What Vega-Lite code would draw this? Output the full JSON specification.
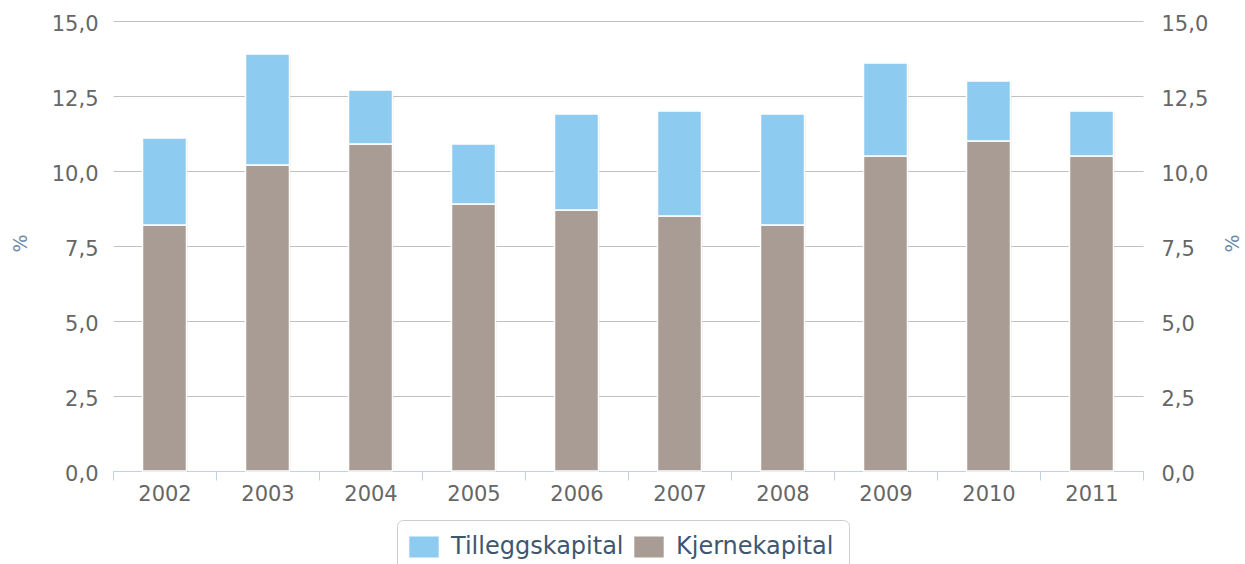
{
  "$schema": "https://vega.github.io/schema/vega-lite/v6.json",
  "width": 1030,
  "height": 450,
  "autosize": {"type": "none"},
  "padding": {"left": 113, "top": 21, "right": 102, "bottom": 93},
  "background": "white",
  "config": {
    "view": {"stroke": null},
    "font": "DejaVu Sans",
    "axis": {"labelFont": "DejaVu Sans", "titleFont": "DejaVu Sans"}
  },
  "data": {
    "values": [
      {"year": "2002", "series": "Kjernekapital", "value": 8.2},
      {"year": "2002", "series": "Tilleggskapital", "value": 2.9},
      {"year": "2003", "series": "Kjernekapital", "value": 10.2},
      {"year": "2003", "series": "Tilleggskapital", "value": 3.7},
      {"year": "2004", "series": "Kjernekapital", "value": 10.9},
      {"year": "2004", "series": "Tilleggskapital", "value": 1.8},
      {"year": "2005", "series": "Kjernekapital", "value": 8.9},
      {"year": "2005", "series": "Tilleggskapital", "value": 2.0},
      {"year": "2006", "series": "Kjernekapital", "value": 8.7},
      {"year": "2006", "series": "Tilleggskapital", "value": 3.2},
      {"year": "2007", "series": "Kjernekapital", "value": 8.5},
      {"year": "2007", "series": "Tilleggskapital", "value": 3.5},
      {"year": "2008", "series": "Kjernekapital", "value": 8.2},
      {"year": "2008", "series": "Tilleggskapital", "value": 3.7},
      {"year": "2009", "series": "Kjernekapital", "value": 10.5},
      {"year": "2009", "series": "Tilleggskapital", "value": 3.1},
      {"year": "2010", "series": "Kjernekapital", "value": 11.0},
      {"year": "2010", "series": "Tilleggskapital", "value": 2.0},
      {"year": "2011", "series": "Kjernekapital", "value": 10.5},
      {"year": "2011", "series": "Tilleggskapital", "value": 1.5}
    ]
  },
  "encoding": {
    "x": {
      "field": "year",
      "type": "nominal",
      "scale": {"paddingInner": 0, "paddingOuter": 0},
      "axis": {
        "title": null,
        "labelAngle": 0,
        "labelFontSize": 21,
        "labelColor": "#666666",
        "labelPadding": 3,
        "domainColor": "#C0D0E0",
        "tickColor": "#C0D0E0",
        "tickSize": 9,
        "tickBand": "extent",
        "grid": false
      }
    }
  },
  "layer": [
    {
      "mark": {"type": "bar", "width": 44, "xOffset": 1, "yOffset": 1, "color": "#000000", "opacity": 0.1},
      "encoding": {
        "y": {
          "aggregate": "sum",
          "field": "value",
          "type": "quantitative",
          "stack": "zero",
          "scale": {"domain": [0, 15], "nice": false},
          "axis": {
            "orient": "left",
            "values": [0, 2.5, 5, 7.5, 10, 12.5, 15],
            "labelExpr": "replace(format(datum.value, '.1f'), '.', ',')",
            "labelFontSize": 21,
            "labelColor": "#666666",
            "labelPadding": 15,
            "labelOffset": 3,
            "domain": false,
            "ticks": false,
            "grid": true,
            "gridColor": "#C0C0C0",
            "title": "%",
            "titleFontSize": 19,
            "titleFontWeight": "normal",
            "titleColor": "#6D89A8",
            "titleAngle": -90,
            "titleX": -93,
            "titleY": 222,
            "titleAlign": "center",
            "titleBaseline": "middle"
          }
        },
        "order": {"field": "series", "sort": "ascending"},
        "detail": {"field": "series"}
      }
    },
    {
      "mark": {"type": "bar", "width": 44, "stroke": "white", "strokeWidth": 1.5},
      "encoding": {
        "y": {
          "aggregate": "sum",
          "field": "value",
          "type": "quantitative",
          "stack": "zero",
          "axis": null
        },
        "color": {
          "field": "series",
          "type": "nominal",
          "scale": {"domain": ["Tilleggskapital", "Kjernekapital"], "range": ["#8ECBF0", "#A89C94"]},
          "legend": {
            "title": null,
            "orient": "none",
            "legendX": 284,
            "legendY": 499,
            "direction": "horizontal",
            "columns": 2,
            "padding": 15,
            "fillColor": "white",
            "strokeColor": "#CCCCCC",
            "cornerRadius": 6,
            "symbolType": "M-1.4,-1L1.4,-1L1.4,1L-1.4,1Z",
            "symbolSize": 441,
            "symbolStrokeWidth": 0,
            "labelFont": "DejaVu Sans",
            "labelFontSize": 24,
            "labelColor": "#3E576F",
            "labelOffset": 15,
            "columnPadding": 10,
            "labelLimit": 400
          }
        },
        "order": {"field": "series", "sort": "ascending"}
      }
    },
    {
      "mark": {"type": "bar", "width": 44, "opacity": 0},
      "encoding": {
        "y": {
          "aggregate": "sum",
          "field": "value",
          "type": "quantitative",
          "stack": "zero",
          "axis": {
            "orient": "right",
            "values": [0, 2.5, 5, 7.5, 10, 12.5, 15],
            "labelExpr": "replace(format(datum.value, '.1f'), '.', ',')",
            "labelFontSize": 21,
            "labelColor": "#666666",
            "labelPadding": 18,
            "labelOffset": 3,
            "domain": false,
            "ticks": false,
            "grid": false,
            "title": "%",
            "titleFontSize": 19,
            "titleFontWeight": "normal",
            "titleColor": "#6D89A8",
            "titleAngle": -90,
            "titleX": 89,
            "titleY": 222,
            "titleAlign": "center",
            "titleBaseline": "middle"
          }
        },
        "detail": {"field": "series"}
      }
    }
  ],
  "resolve": {"axis": {"y": "independent"}}
}
